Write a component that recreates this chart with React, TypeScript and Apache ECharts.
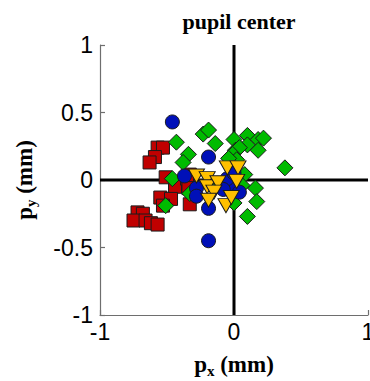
import React, { useEffect, useRef } from "react";
import * as echarts from "echarts";

const redSquares: [number, number][] = [
  [-0.57, 0.24], [-0.53, 0.24], [-0.59, 0.17], [-0.63, 0.13], [-0.51, 0.02],
  [-0.44, -0.05], [-0.33, 0.04], [-0.35, 0.01], [-0.34, -0.06], [-0.55, -0.13],
  [-0.47, -0.14], [-0.53, -0.19], [-0.33, -0.18], [-0.72, -0.24], [-0.68, -0.25],
  [-0.75, -0.30], [-0.66, -0.30], [-0.62, -0.32], [-0.57, -0.33],
];
const greenDiamonds: [number, number][] = [
  [-0.43, 0.28], [-0.23, 0.34], [-0.19, 0.37], [-0.14, 0.27], [-0.34, 0.19],
  [-0.38, 0.13], [-0.46, 0.01], [-0.51, -0.19], [-0.33, -0.10], [0.0, 0.30],
  [0.10, 0.33], [0.10, 0.26], [0.18, 0.30], [0.22, 0.31], [0.18, 0.22],
  [0.01, 0.22], [0.04, 0.24], [-0.01, 0.19], [0.02, 0.15], [-0.04, 0.16],
  [0.38, 0.09], [0.16, -0.06], [0.17, -0.16], [0.10, -0.27], [0.0, -0.17],
  [0.08, 0.04], [0.06, -0.04], [-0.1, -0.03],
];
const blueCircles: [number, number][] = [
  [-0.46, 0.43], [-0.19, 0.17], [-0.37, 0.03], [-0.28, -0.06], [-0.28, -0.12],
  [-0.19, -0.21], [-0.19, -0.45], [-0.03, -0.05], [0.04, -0.09], [-0.05, 0.01],
  [0.0, 0.05], [-0.08, -0.07],
];
const yellowTriangles: [number, number][] = [
  [-0.28, 0.03], [-0.2, 0.01], [-0.2, -0.05], [-0.12, -0.02], [-0.15, -0.09],
  [-0.19, -0.15], [-0.05, 0.09], [0.03, 0.09], [0.02, -0.01], [-0.06, -0.19],
  [-0.02, -0.13],
];
const xTicks = [-1, 0, 1];
const yTicks = [-1, -0.5, 0, 0.5, 1];

const serif = "Liberation Serif";
const sans = "Liberation Sans";
const downTriangle = "path://M0,0 L10,0 L5,9 Z";

export default function App() {
  const ref = useRef<HTMLDivElement>(null);
  useEffect(() => {
    if (!ref.current) return;
    const chart = echarts.init(ref.current, null, { renderer: "svg" });
    const axisLineStyle = { color: "#6e6e6e", width: 1.2 };
    const scatter = (
      data: [number, number][],
      symbol: string,
      color: string,
      size: number | number[]
    ) => ({
      type: "scatter",
      data,
      symbol,
      symbolSize: size,
      itemStyle: { color, borderColor: "#1a1a1a", borderWidth: 1, opacity: 1 },
      z: 3,
    });
    const nameRich = {
      a: { fontFamily: serif, fontWeight: "bold", fontSize: 23, color: "#000" },
      b: { fontFamily: serif, fontWeight: "bold", fontSize: 15, color: "#000", padding: [12, 0, 0, 0] },
    };
    chart.setOption({
      animation: false,
      title: {
        text: "pupil center",
        left: 234,
        textAlign: "center",
        top: 5,
        textStyle: { fontFamily: serif, fontWeight: "bold", fontSize: 22, color: "#000" },
      },
      grid: { left: 100, right: 2, top: 45, bottom: 66, outerBoundsMode: "none", containLabel: false },
      xAxis: {
        type: "value",
        min: -1,
        max: 1,
        interval: 1,
        axisLine: { show: true, onZero: false, lineStyle: axisLineStyle },
        axisTick: { show: true, inside: true, length: 5, lineStyle: axisLineStyle },
        splitLine: { show: false },
        axisLabel: {
          color: "#000",
          fontFamily: sans,
          fontSize: 23,
          margin: 5,
          formatter: (v: number) => (xTicks.includes(v) ? String(v) : ""),
        },
        name: "{a|p}{b|x}{a| (mm)}",
        nameLocation: "middle",
        nameGap: 36,
        nameTextStyle: { rich: nameRich },
      },
      yAxis: {
        type: "value",
        min: -1,
        max: 1,
        interval: 0.5,
        axisLine: { show: true, onZero: false, lineStyle: axisLineStyle },
        axisTick: { show: true, inside: true, length: 5, lineStyle: axisLineStyle },
        splitLine: { show: false },
        axisLabel: {
          color: "#000",
          fontFamily: sans,
          fontSize: 23,
          margin: 7,
          formatter: (v: number) => (yTicks.includes(v) ? String(v) : ""),
        },
        name: "{a|p}{b|y}{a| (mm)}",
        nameLocation: "middle",
        nameGap: 62,
        nameRotate: 90,
        nameTextStyle: { rich: nameRich },
      },
      series: [
        {
          type: "line",
          data: [[-1, 0], [1, 0]],
          symbol: "none",
          lineStyle: { color: "#000", width: 3 },
          z: 1,
          silent: true,
        },
        {
          type: "line",
          data: [[0, -1], [0, 1]],
          symbol: "none",
          lineStyle: { color: "#000", width: 3 },
          z: 1,
          silent: true,
        },
        scatter(redSquares, "rect", "#c00000", 13),
        scatter(greenDiamonds, "diamond", "#00bb00", 16),
        scatter(blueCircles, "circle", "#0010b8", 14),
        scatter(yellowTriangles, downTriangle, "#ffc000", [16, 14]),
      ],
    });
    return () => chart.dispose();
  }, []);
  return (
    <div
      ref={ref}
      style={{ position: "fixed", left: 0, top: 0, width: 370, height: 381, background: "#fff" }}
    />
  );
}
